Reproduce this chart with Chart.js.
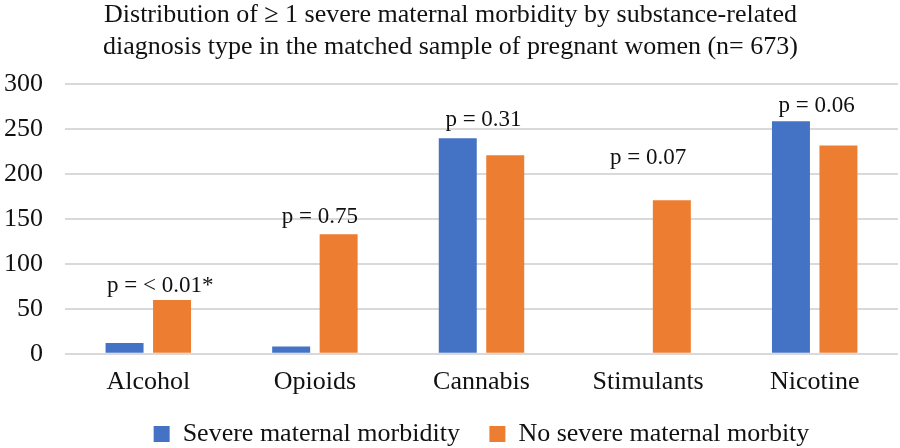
<!DOCTYPE html>
<html>
<head>
<meta charset="utf-8">
<script src="https://cdn.jsdelivr.net/npm/chart.js@4"></script>
<style>
  html, body { margin: 0; padding: 0; background: #fff; }
  #wrap { width: 900px; height: 448px; }
</style>
</head>
<body>
<div id="wrap"><canvas id="chart"></canvas></div>
<script>
const categories = ['Alcohol', 'Opioids', 'Cannabis', 'Stimulants', 'Nicotine'];
const severeSMM = [12, 8, 240, 0, 259];
const noSevereSMM = [60, 133, 221, 171, 232];
const pLabels = ['p = < 0.01*', 'p = 0.75', 'p = 0.31', 'p = 0.07', 'p = 0.06'];

const FONT = '"Liberation Serif", "Times New Roman", serif';

// p-value text boxes sit above the taller bar of each group
const pValuePlugin = {
  id: 'pValues',
  afterDatasetsDraw(chart) {
    const { ctx, scales } = chart;
    const nudgeX = [12, 5, 2, 0, 2];
    const lift = [14, 17, 18, 42, 15];
    ctx.save();
    ctx.font = '23px ' + FONT;
    ctx.fillStyle = '#111';
    ctx.textAlign = 'center';
    ctx.textBaseline = 'middle';
    pLabels.forEach((txt, i) => {
      const top = Math.max(severeSMM[i], noSevereSMM[i]);
      const x = scales.x.getPixelForValue(i) + nudgeX[i];
      const y = scales.y.getPixelForValue(top) - lift[i];
      ctx.fillText(txt, x, y);
    });
    ctx.restore();
  }
};

new Chart(document.getElementById('chart'), {
  type: 'bar',
  data: {
    labels: categories,
    datasets: [{
      label: 'Severe maternal morbidity',
      data: severeSMM,
      backgroundColor: '#4472C4'
    }, {
      label: 'No severe maternal morbity',
      data: noSevereSMM,
      backgroundColor: '#ED7D31'
    }]
  },
  options: {
    responsive: true,
    maintainAspectRatio: false,
    animation: false,
    layout: { padding: { left: 3, right: 2, top: 0, bottom: -9 } },
    datasets: {
      bar: { categoryPercentage: 0.57, barPercentage: 0.8 }
    },
    plugins: {
      title: {
        display: true,
        text: ['Distribution of \u2265 1 severe maternal morbidity by substance-related',
               'diagnosis type in the matched sample of pregnant women (n= 673)'],
        font: { family: FONT, size: 26, weight: 'normal' },
        color: '#111',
        lineHeight: 1.12,
        padding: { top: 0, bottom: 22 }
      },
      legend: {
        position: 'bottom',
        fullSize: false,
        labels: {
          font: { family: FONT, size: 26 },
          color: '#111',
          boxWidth: 16,
          boxHeight: 16,
          padding: 10,
          generateLabels(chart) {
            const items = Chart.defaults.plugins.legend.labels.generateLabels(chart);
            items[0].text += '   ';
            return items;
          }
        }
      },
      tooltip: { enabled: false }
    },
    scales: {
      x: {
        grid: { display: false, drawTicks: false },
        border: { display: false },
        ticks: { font: { family: FONT, size: 26 }, color: '#111', padding: 13 }
      },
      y: {
        min: 0,
        max: 300,
        afterFit(scale) { scale.width = 62; },
        ticks: { stepSize: 50, font: { family: FONT, size: 26 }, color: '#111', padding: 22 },
        grid: { color: '#d9d9d9', lineWidth: 2, drawTicks: false },
        border: { display: false }
      }
    }
  },
  plugins: [pValuePlugin]
});
</script>
</body>
</html>
